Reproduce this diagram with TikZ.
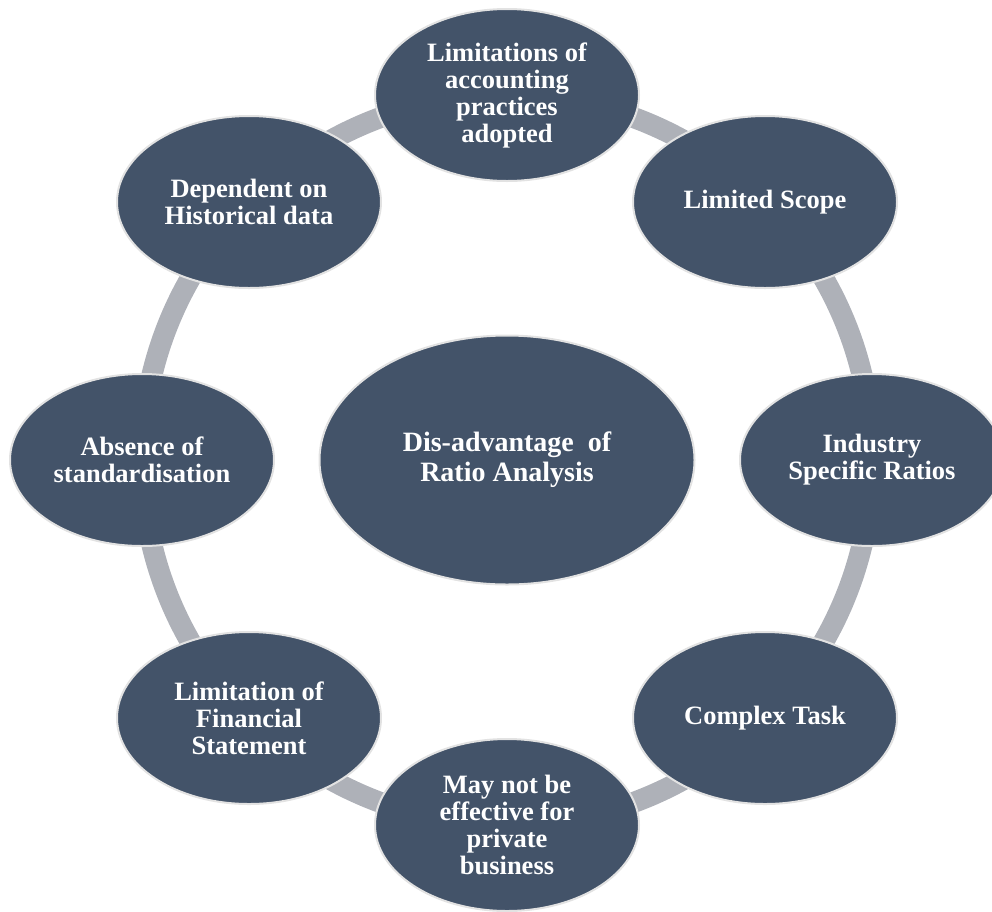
\documentclass[tikz,border=0pt]{standalone}
\usepackage{fontspec}
\setmainfont{Liberation Serif}
\usetikzlibrary{shapes.geometric}
\definecolor{nodefill}{HTML}{435369}
\definecolor{ringgray}{HTML}{AEB1B8}
\definecolor{edgegray}{HTML}{E2E2E2}
\begin{document}
\begin{tikzpicture}[x=1pt,y=-1pt,
  outer/.style={ellipse, fill=nodefill, draw=edgegray, line width=2pt,
    minimum width=264pt, minimum height=172pt, inner sep=0pt, align=center,
    text=white, font=\fontsize{26.5}{27}\selectfont\bfseries},
  centre/.style={ellipse, fill=nodefill, draw=edgegray, line width=2pt,
    minimum width=375pt, minimum height=249pt, inner sep=0pt, align=center,
    text=white, font=\fontsize{28}{30}\selectfont\bfseries},
  ring/.style={draw=ringgray, line width=21pt}]
\useasboundingbox (0,0) rectangle (992,911);
\clip (0,0) rectangle (992,911);
\coordinate (c) at (507,460);
\draw[ring] (c) circle[radius=365pt];
\node[centre] (mid) at (c) {Dis-advantage~ of\\Ratio Analysis};
\node[outer] (n1) at (507,95) {Limitations of\\accounting\\practices\\adopted};
\node[outer] (n2) at (765,202) {Limited Scope};
\node[outer] (n3) at (872,460) {Industry\\Specific Ratios};
\node[outer] (n4) at (765,718) {Complex Task};
\node[outer] (n5) at (507,825) {May not be\\effective for\\private\\business};
\node[outer] (n6) at (249,718) {Limitation of\\Financial\\Statement};
\node[outer] (n7) at (142,460) {Absence of\\standardisation};
\node[outer] (n8) at (249,202) {Dependent on\\Historical data};
\end{tikzpicture}
\end{document}
